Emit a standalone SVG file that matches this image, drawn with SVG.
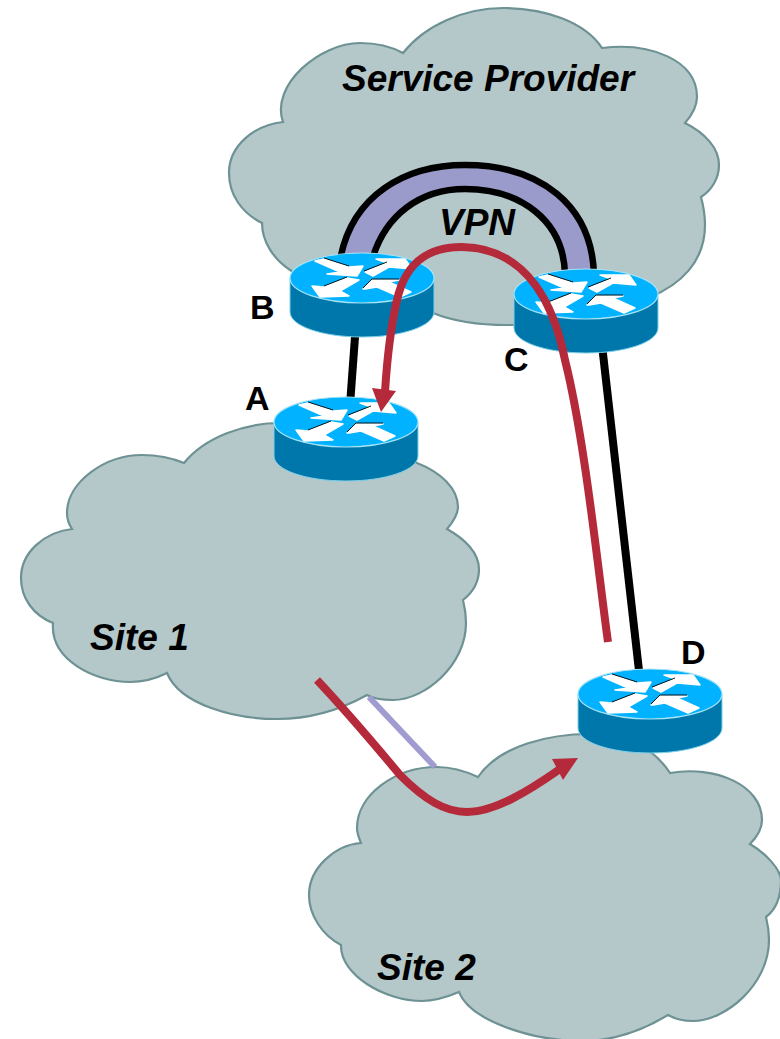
<svg xmlns="http://www.w3.org/2000/svg" width="780" height="1039" viewBox="0 0 780 1039">
<style>
.cloud{fill:#b4c7c9;stroke:#6e9294;stroke-width:2.2;stroke-linejoin:miter}
.t{font-family:"Liberation Sans",Arial,sans-serif;font-weight:700;font-size:34px;fill:#000}
.i{font-style:italic;font-size:37px}
.side{fill:#0077aa;stroke:#7fd0ea;stroke-width:1}
.top{fill:#00b2ff;stroke:#a5e3f5;stroke-width:1.2}
.ar{fill:#fff;stroke:#fff;stroke-width:1.5;stroke-linejoin:round}
.sh{fill:none;stroke:#000;stroke-width:.9}
.link{fill:none;stroke:#000;stroke-width:8}
.flow{fill:none;stroke:#b52a3a;stroke-width:8}
.head{fill:#b52a3a}
</style>
<defs>
<g id="router">
<path class="side" d="M-72,0 V34 C-72,48 -40,59 0,59 C40,59 72,48 72,34 V0 Z"/>
<ellipse class="top" cx="0" cy="0" rx="72" ry="25"/>
<polygon class="ar" points="-47,-17 -38,-19 -13,-11 1,-12 -5,-2 -35,-4 -22,-6"/>
<polygon class="ar" points="3,-6 25,-15 14,-19 43,-19 50,-9 27,-11 11,-2"/>
<polygon class="ar" points="-38,9 -15,0 -3,2 -22,13 -13,18 -42,19 -50,8"/>
<polygon class="ar" points="1,11 10,2 37,2 27,4 49,14 38,19 15,9 3,11"/>
<polyline class="sh" points="-38,-20 -13,-12"/>
<polyline class="sh" points="2,-7 25,-16"/>
<polyline class="sh" points="-38,8 -15,-1"/>
<polyline class="sh" points="1,10 10,1 37,1"/>
</g>
</defs>
<rect width="780" height="1039" fill="#fff"/>
<g id="cloud-provider">
<path class="cloud" d="M283,122 C270,85 320,43 360,43 C378,43 392,47 403,53 C425,25 465,8 503,8 C545,8 585,22 602,48 C650,42 697,60 697,97 C697,105 692,115 685,123 C705,133 719,148 719,165 C719,178 712,190 701,197 C704,208 705,215 705,225 C705,262 680,285 650,297 C610,318 560,325 507,325 C480,325 455,322 433,313 C400,305 320,290 290,270 C272,258 262,240 262,223 C242,213 229,195 229,173 C229,145 255,125 283,122 Z"/>
<text class="t i" x="342" y="91">Service Provider</text>
<text class="t i" x="439" y="235">VPN</text>
</g>
<g id="cloud-site1">
<path class="cloud" d="M184,463 C205,437 245,423 280,423 C330,423 390,445 417,463 C440,472 458,488 458,507 C458,515 453,522 447,529 C465,539 479,553 479,569 C479,582 472,593 463,600 C465,608 466,615 466,623 C466,665 425,700 393,700 C378,700 372,698 367,695 C340,710 310,719 277,719 C235,719 180,705 167,673 C155,679 143,682 130,682 C95,682 50,660 53,623 C33,615 21,598 21,578 C21,552 45,532 72,529 C68,523 67,518 67,513 C67,482 105,455 142,455 C158,455 172,458 184,463 Z"/>
<text class="t i" x="90" y="650">Site 1</text>
</g>
<g id="cloud-site2">
<path class="cloud" d="M478,777 C500,745 550,734 590,734 C630,734 655,750 670,773 C715,765 762,785 762,820 C762,828 757,837 750,844 C765,853 780,868 781,880 C781,895 778,908 766,917 C768,925 769,932 769,940 C769,985 725,1021 693,1021 C684,1021 675,1019 668,1015 C640,1032 610,1041 583,1041 C530,1041 470,1020 459,992 C447,997 435,1001 422,1001 C385,1001 340,975 341,945 C322,935 309,915 309,895 C309,868 335,845 361,843 C358,836 357,832 357,828 C357,795 395,767 437,767 C452,767 465,771 478,777 Z"/>
<text class="t i" x="377" y="980">Site 2</text>
</g>
<g id="connectors">
<path d="M369,697 L435,767" fill="none" stroke="#a09cd0" stroke-width="6"/>
<path d="M340,260 C352,195 405,165 465,165 C540,165 592,205 594,275 L565,275 C564,220 520,189 465,189 C420,189 385,215 372,260 Z" fill="#9b9bcb" stroke="#000" stroke-width="6.500"/>
<path class="link" d="M355.5,330 L350,405"/>
<path class="link" d="M602,345 L639.500,675"/>
</g>
<g id="router-b"><use href="#router" x="362" y="278"/><text class="t" x="250" y="319">B</text></g>
<g id="router-c"><use href="#router" x="586" y="294"/><text class="t" x="504" y="371">C</text></g>
<g id="router-a"><use href="#router" x="346" y="422"/><text class="t" x="245" y="410">A</text></g>
<g id="router-d"><use href="#router" x="650" y="694"/><text class="t" x="681" y="664">D</text></g>
<g id="connectors-flows">
<path class="flow" d="M608,642 C598,570 585,440 565,360 C555,310 530,248 462,247 C425,247 405,265 397,300 C390,330 387,360 385,392"/>
<polygon class="head" points="381,412 372,388 396,391"/>
<path class="flow" d="M317,680 C350,715 375,745 400,775 C425,800 445,812 467,812 C495,812 530,790 560,769"/>
<polygon class="head" points="578,758 552,759 563,780"/>
</g>
</svg>
